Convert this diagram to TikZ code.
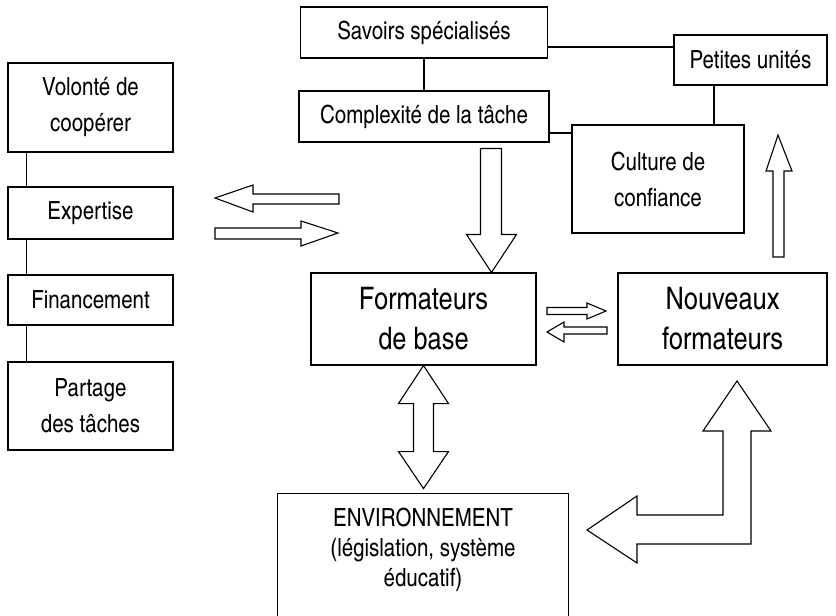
\documentclass[tikz,border=0pt]{standalone}
\usepackage{fontspec}
\setmainfont{texgyreheroscn}[Extension=.otf,UprightFont=*-regular,BoldFont=*-bold]
\usetikzlibrary{calc}
\tikzset{
  box/.style={draw, line width=1.1pt, inner sep=0pt, align=center, font=\fontsize{25}{36}\selectfont},
  bigbox/.style={box, font=\fontsize{31}{40}\selectfont},
  blockarrow/.style={draw, line width=1.1pt, line join=miter, fill=white},
  link/.style={line width=1.1pt}
}

\begin{document}
\begin{tikzpicture}[x=1pt, y=-1pt]
\useasboundingbox (0,0) rectangle (836,616);
% left column
\node[box, minimum width=165pt, minimum height=89pt] (vol) at (90.5,107.5) {Volonté de\\coopérer};
\node[box, minimum width=165pt, minimum height=52pt] (exp) at (90.5,213) {Expertise};
\node[box, minimum width=165pt, minimum height=50pt] (fin) at (90.5,300) {Financement};
\node[box, minimum width=165pt, minimum height=88pt] (par) at (90.5,406) {Partage\\des tâches};
\draw[link] ([xshift=19pt]vol.south west) -- ([xshift=19pt]exp.north west);
\draw[link] ([xshift=19pt]exp.south west) -- ([xshift=19pt]fin.north west);
\draw[link] ([xshift=19pt]fin.south west) -- ([xshift=19pt]par.north west);
% top group
\node[box, minimum width=247pt, minimum height=51pt] (sav) at (424,32.5) {Savoirs spécialisés};
\node[box, minimum width=250pt, minimum height=51pt] (comp) at (424,116.5) {Complexité de la tâche};
\node[box, minimum width=153pt, minimum height=50pt] (pet) at (750.5,60) {Petites unités};
\node[box, minimum width=172pt, minimum height=108pt] (cult) at (658,179) {Culture de\\confiance};
\coordinate (s1) at ([yshift=-14.5pt]sav.east);
\coordinate (c1) at ([yshift=-16.5pt]comp.east);
\coordinate (p1) at ([xshift=-36.5pt]pet.south);
\draw[link] (sav) -- (comp);
\draw[link] (s1) -- (s1 -| pet.west);
\draw[link] (c1) -- (c1 -| cult.west);
\draw[link] (p1) -- (p1 |- cult.north);
% trainers
\node[bigbox, minimum width=225pt, minimum height=92pt] (form) at (423.5,319) {Formateurs\\de base};
\node[bigbox, minimum width=209pt, minimum height=92pt] (nouv) at (722.5,319) {Nouveaux\\formateurs};
% environment (open at the bottom)
\node[align=center, inner sep=0pt, minimum width=290pt, minimum height=112pt,
  font=\fontsize{25}{30}\selectfont] (env) at (423,550) {ENVIRONNEMENT\\(législation, système\\éducatif)};
\draw[link] ([yshift=-10pt]env.south west) |- (env.north east) -- ([yshift=-10pt]env.south east);
% block arrows
\draw[blockarrow] (215,198) -- (253,185) -- (253,194) -- (339,194) -- (339,204) -- (253,204) -- (253,212) -- cycle;
\draw[blockarrow] (338,233) -- (301,221) -- (301,228) -- (215,228) -- (215,239) -- (301,239) -- (301,246) -- cycle;
\draw[blockarrow] (form.north) ++(68,0) -- ++(-25,-38) -- ++(14,0) -- ++(0,-86) -- ++(21,0) -- ++(0,86) -- ++(15,0) -- cycle;
\draw[blockarrow] (606,311) -- (587,303) -- (587,307.5) -- (547,307.5) -- (547,314.5) -- (587,314.5) -- (587,319) -- cycle;
\draw[blockarrow] (547,332) -- (564,322) -- (564,327) -- (607,327) -- (607,334) -- (564,334) -- (564,342) -- cycle;
\draw[blockarrow] (778,135) -- (792,171) -- (784,171) -- (784,257) -- (773,257) -- (773,171) -- (766,171) -- cycle;
\draw[blockarrow] (form.south) -- ++(25,38) -- ++(-15,0) -- ++(0,48) -- ++(15,0) -- ++(-25,37)
  -- ++(-25,-37) -- ++(15,0) -- ++(0,-48) -- ++(-15,0) -- cycle;
\draw[blockarrow] (737,381) -- (771,431) -- (751,431) -- (751,544) -- (637,544) -- (637,563) -- (587,530)
  -- (637,496) -- (637,515) -- (723,515) -- (723,431) -- (703,431) -- cycle;
\end{tikzpicture}
\end{document}
